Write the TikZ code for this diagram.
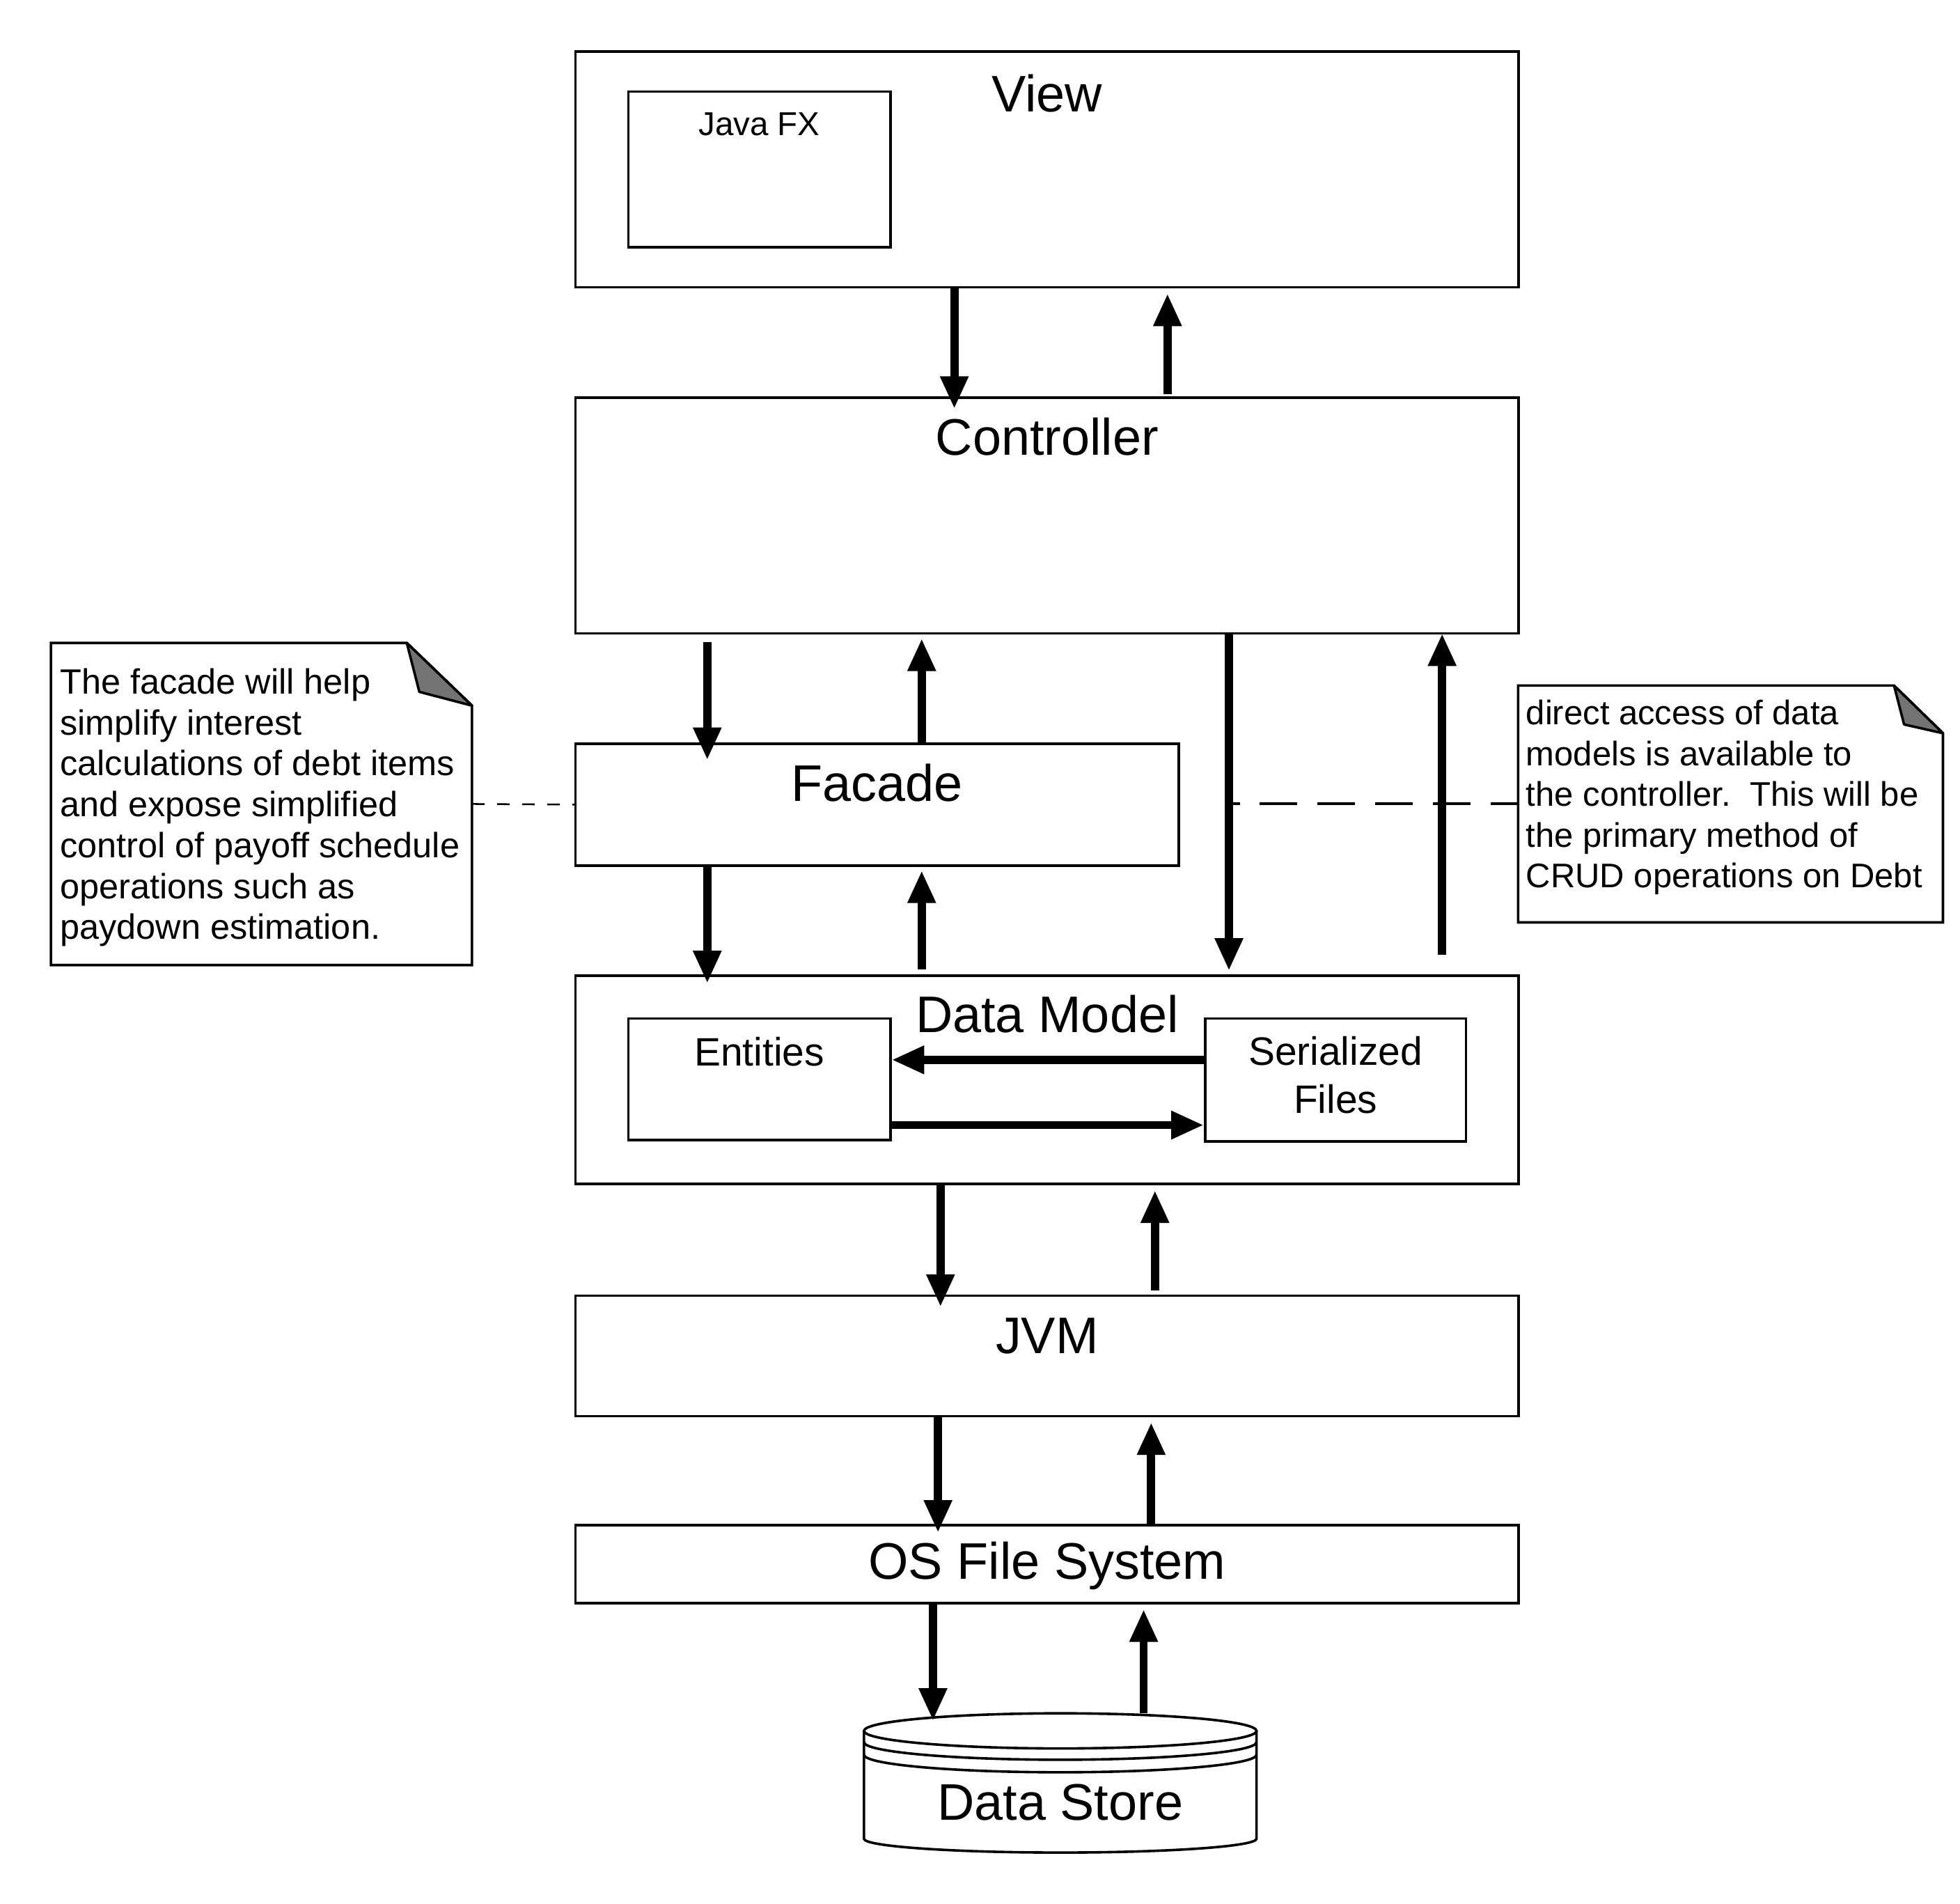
\documentclass[tikz,border=0pt]{standalone}
\usepackage{fontspec}
\setmainfont{Liberation Sans}
\usetikzlibrary{calc,arrows.meta}

\tikzset{
	box/.style={draw, line width=1pt, inner sep=0pt, fill=white},
	flow/.style={line width=3.3pt, -{Triangle[length=13pt, width=10.5pt]}},
	big/.style={font=\fontsize{20.5}{24}\selectfont, anchor=base, inner sep=0pt},
	mid/.style={font=\fontsize{15.8}{19}\selectfont, inner sep=0pt, align=center},
	small/.style={font=\fontsize{13.2}{16}\selectfont, anchor=base, inner sep=0pt},
	notetext/.style={font=\fontsize{14}{16.3}\selectfont, anchor=north west, inner sep=0pt, align=left},
	notefold/.style={draw, line width=1pt, fill=black!55, line join=round},
}

\begin{document}
\begin{tikzpicture}[x=0.5pt, y=-0.5pt]
		%%%%% START %%%%%
		\useasboundingbox[fill=white] (0, 0) rectangle (1563, 1518);

		% layers
		\node[box, minimum width=376pt, minimum height=94pt] (view) at (835, 135) {};
		\node[box, minimum width=104.5pt, minimum height=62pt] (javafx) at (605.5, 135) {};
		\node[box, minimum width=376pt, minimum height=94pt] (ctrl) at (835, 411) {};
		\node[box, minimum width=240.5pt, minimum height=48.5pt] (facade) at (699.5, 641.5) {};
		\node[box, minimum width=376pt, minimum height=83pt] (dm) at (835, 861) {};
		\node[box, minimum width=104.5pt, minimum height=48.5pt] (ent) at (605.5, 860.5) {};
		\node[box, minimum width=104pt, minimum height=49pt] (ser) at (1065, 861) {};
		\node[box, minimum width=376pt, minimum height=48pt] (jvm) at (835, 1081) {};
		\node[box, minimum width=376pt, minimum height=31pt] (osfs) at (835, 1247) {};

		\node[big] at ($(view.north)+(0, 49)$) {View};
		\node[small] at ($(javafx.north)+(0, 36)$) {Java FX};
		\node[big] at ($(ctrl.north)+(0, 47)$) {Controller};
		\node[big] at ($(facade.north)+(0, 47)$) {Facade};
		\node[big] at ($(dm.north)+(0, 46)$) {Data Model};
		\node[mid, anchor=base] at ($(ent.north)+(0, 39)$) {Entities};
		\node[mid] at ($(ser.north)+(0, 46)$) {Serialized\\Files};
		\node[big] at ($(jvm.north)+(0, 47)$) {JVM};
		\node[big] at ($(osfs.north)+(0, 44)$) {OS File System};

		% data store
		\coordinate (storetop) at (845.5, 1366);
		\draw[line width=1pt, fill=white] (689, 1380) -- (689, 1466) arc[start angle=180, end angle=360, x radius=78.25pt, y radius=5.5pt] -- (1002, 1380);
		\draw[line width=1pt, fill=white] (845.5, 1380) ellipse [x radius=78.25pt, y radius=7pt];
		\draw[line width=1pt] (689, 1389) arc[start angle=180, end angle=360, x radius=78.25pt, y radius=7pt];
		\draw[line width=1pt] (689, 1399) arc[start angle=180, end angle=360, x radius=78.25pt, y radius=7pt];
		\node[big] (store) at (845.5, 1451) {Data Store};

		% notes
		\node[inner sep=0pt, minimum width=167.5pt, minimum height=128pt] (lnote) at (208.5, 641) {};
		\draw[line width=1pt, fill=white] (lnote.north west) -- ($(lnote.north east)+(-52, 0)$) -- ($(lnote.north east)+(0, 50)$) -- (lnote.south east) -- (lnote.south west) -- cycle;
		\draw[notefold] ($(lnote.north east)+(-52, 0)$) -- ($(lnote.north east)+(-42, 39)$) -- ($(lnote.north east)+(0, 50)$) -- cycle;
		\node[notetext] at ($(lnote.north west)+(7, 20)$) {The facade will help\\simplify interest\\calculations of debt items\\and expose simplified\\control of payoff schedule\\operations such as\\paydown estimation.};

		\node[inner sep=0pt, minimum width=169pt, minimum height=94pt] (rnote) at (1380, 641) {};
		\draw[line width=1pt, fill=white] (rnote.north west) -- ($(rnote.north east)+(-39, 0)$) -- ($(rnote.north east)+(0, 38)$) -- (rnote.south east) -- (rnote.south west) -- cycle;
		\draw[notefold] ($(rnote.north east)+(-39, 0)$) -- ($(rnote.north east)+(-31, 31)$) -- ($(rnote.north east)+(0, 38)$) -- cycle;
		\node[notetext, font=\fontsize{13.6}{16.25}\selectfont] at ($(rnote.north west)+(6, 11)$) {direct access of data\\models is available to\\the controller.\ \ This will be\\the primary method of\\CRUD operations on Debt};

		% note links
		\coordinate (direct) at (983, 641);
		\draw[line width=0.7pt, dash pattern=on 5pt off 5pt] (lnote.east) -- (facade.west);
		\draw[line width=1.1pt, dash pattern=on 15pt off 8pt, dash phase=4pt] (rnote.west) -- (direct);

		% flows
		\draw[flow] ($(view.south)+(-74, 0)$) -- ($(ctrl.north)+(-74, 10)$);
		\draw[flow] ($(ctrl.north)+(96, -2)$) -- ($(view.south)+(96, 4)$);

		\draw[flow] ($(ctrl.south)+(-271, 6)$) -- ($(facade.north)+(-135.5, 14)$);
		\draw[flow] ($(facade.north)+(35.5, 0)$) -- ($(ctrl.south)+(-100, 3)$);

		\draw[flow] ($(facade.south)+(-135.5, 0)$) -- ($(dm.north)+(-271, 7)$);
		\draw[flow] ($(dm.north)+(-100, -4)$) -- ($(facade.south)+(35.5, 3)$);

		\draw[flow] ($(ctrl.south)+(145, 0)$) -- ($(dm.north)+(145, -3)$);
		\draw[flow] ($(dm.north)+(315, -16)$) -- ($(ctrl.south)+(315, -1)$);

		\draw[flow] ($(ser.west)+(0, -16)$) -- ($(ent.east)+(0, -15.5)$);
		\draw[flow] ($(ent.east)+(0, 36.5)$) -- ($(ser.west)+(0, 36)$);

		\draw[flow] ($(dm.south)+(-85, 0)$) -- ($(jvm.north)+(-85, 10)$);
		\draw[flow] ($(jvm.north)+(86, -3)$) -- ($(dm.south)+(86, 4)$);

		\draw[flow] ($(jvm.south)+(-87, 0)$) -- ($(osfs.north)+(-87, 7)$);
		\draw[flow] ($(osfs.north)+(83, 0)$) -- ($(jvm.south)+(83, 4)$);

		\draw[flow] ($(osfs.south)+(-91, 0)$) -- ($(storetop)+(-101.5, 6)$);
		\draw[flow] ($(storetop)+(66.5, 0)$) -- ($(osfs.south)+(77, 4)$);

		%%%%% END %%%%%
	\end{tikzpicture}
\end{document}
